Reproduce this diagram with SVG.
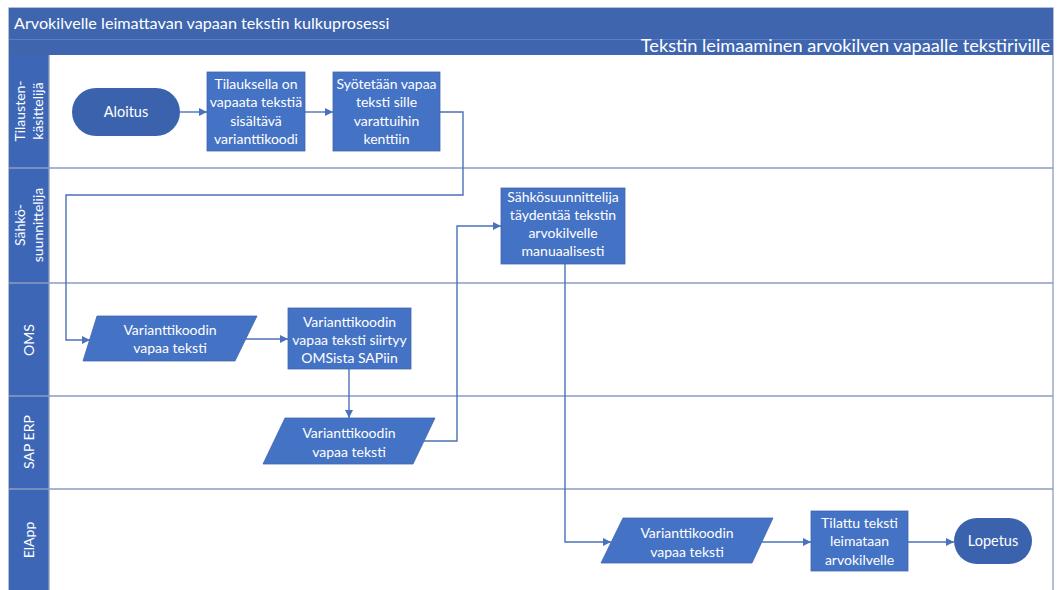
<svg xmlns="http://www.w3.org/2000/svg" width="1057" height="590" viewBox="0 0 1057 590">
  <style>
    .bar { fill: #3E65AE; }
    .lanehead { fill: #3D67B6; }
    .laneline { stroke: #8D9DC0; stroke-width: 1.3; fill: none; }
    .proc { fill: #4472C4; stroke: #3F67B0; stroke-width: 0.8; }
    .term { fill: #3B63AD; }
    .conn { stroke: #4A72B8; stroke-width: 1.4; fill: none; }
    text { font-family: Lato, "Open Sans", "Liberation Sans", sans-serif; fill: #FFFFFF; }
    .t { font-size: 14px; text-anchor: middle; }
    .lane { font-size: 14px; text-anchor: middle; }
    .title { font-size: 16.2px; }
    .sub { font-size: 18.2px; text-anchor: end; }
  </style>
  <defs>
    <marker id="arrow" markerUnits="userSpaceOnUse" markerWidth="8" markerHeight="8" refX="8" refY="4" orient="auto">
      <path d="M0,0 L8,4 L0,8 z" fill="#4A72B8"/>
    </marker>
  </defs>

  <rect width="1057" height="590" fill="#FFFFFF"/>

  <!-- pool frame and header bars -->
  <g id="pool">
    <rect x="9" y="8" width="1044" height="590" fill="#FFFFFF" stroke="#8D9DC0" stroke-width="1.3"/>
    <rect class="bar" x="9" y="8" width="1044" height="31"/>
    <rect class="bar" x="9" y="39" width="1044" height="16"/>
    <line x1="9" y1="39.5" x2="1053" y2="39.5" stroke="#5A7EC0" stroke-width="1"/>
    <text class="title" x="14" y="29">Arvokilvelle leimattavan vapaan tekstin kulkuprosessi</text>
    <text class="sub" x="1050" y="52">Tekstin leimaaminen arvokilven vapaalle tekstiriville</text>
  </g>

  <!-- swimlanes -->
  <g id="lanes">
    <rect class="lanehead" x="9" y="55" width="40" height="535"/>
    <line class="laneline" x1="9" y1="168" x2="1053" y2="168"/>
    <line class="laneline" x1="9" y1="283" x2="1053" y2="283"/>
    <line class="laneline" x1="9" y1="396" x2="1053" y2="396"/>
    <line class="laneline" x1="9" y1="489" x2="1053" y2="489"/>
    <line class="laneline" x1="49" y1="55" x2="49" y2="590"/>
    <g id="lane-tilaus" transform="translate(29,111) rotate(-90)">
      <text class="lane" x="0" y="-4">Tilausten-</text>
      <text class="lane" x="0" y="14">käsittelijä</text>
    </g>
    <g id="lane-sahko" transform="translate(29,225) rotate(-90)">
      <text class="lane" x="0" y="-4">Sähkö-</text>
      <text class="lane" x="0" y="14">suunnittelija</text>
    </g>
    <g id="lane-oms" transform="translate(29,340) rotate(-90)">
      <text class="lane" x="0" y="5">OMS</text>
    </g>
    <g id="lane-sap" transform="translate(29,442) rotate(-90)">
      <text class="lane" x="0" y="5">SAP ERP</text>
    </g>
    <g id="lane-elapp" transform="translate(29,540) rotate(-90)">
      <text class="lane" x="0" y="5">ElApp</text>
    </g>
  </g>

  <!-- connectors -->
  <g id="connectors">
    <path class="conn" d="M180,112 H207" marker-end="url(#arrow)"/>
    <path class="conn" d="M305,112 H333" marker-end="url(#arrow)"/>
    <path class="conn" d="M440,112 H463 V195 H66 V340 H90" marker-end="url(#arrow)"/>
    <path class="conn" d="M246,339 H288" marker-end="url(#arrow)"/>
    <path class="conn" d="M349,369 V418" marker-end="url(#arrow)"/>
    <path class="conn" d="M424,441 H457 V226 H501" marker-end="url(#arrow)"/>
    <path class="conn" d="M565,264 V542 H611" marker-end="url(#arrow)"/>
    <path class="conn" d="M762,542 H811" marker-end="url(#arrow)"/>
    <path class="conn" d="M908,542 H954" marker-end="url(#arrow)"/>
  </g>

  <!-- nodes -->
  <g id="aloitus">
    <rect class="term" x="72" y="88" width="108" height="48" rx="24" ry="24"/>
    <text class="t" x="126" y="117" style="font-size:14.5px">Aloitus</text>
  </g>
  <g id="tilauksella">
    <rect class="proc" x="207" y="72" width="98" height="79"/>
    <text class="t" x="256" y="89">Tilauksella on</text>
    <text class="t" x="256" y="107">vapaata tekstiä</text>
    <text class="t" x="256" y="126">sisältävä</text>
    <text class="t" x="256" y="144">varianttikoodi</text>
  </g>
  <g id="syotetaan">
    <rect class="proc" x="333" y="72" width="107" height="79"/>
    <text class="t" x="386.5" y="89">Syötetään vapaa</text>
    <text class="t" x="386.5" y="107">teksti sille</text>
    <text class="t" x="386.5" y="126">varattuihin</text>
    <text class="t" x="386.5" y="144">kenttiin</text>
  </g>
  <g id="sahko-taydentaa">
    <rect class="proc" x="501" y="188" width="124" height="76"/>
    <text class="t" x="563" y="202">Sähkösuunnittelija</text>
    <text class="t" x="563" y="220">täydentää tekstin</text>
    <text class="t" x="563" y="238">arvokilvelle</text>
    <text class="t" x="563" y="256">manuaalisesti</text>
  </g>
  <g id="oms-data">
    <polygon class="proc" points="97,316 257,316 235,361 83,361"/>
    <text class="t" x="170" y="335">Varianttikoodin</text>
    <text class="t" x="170" y="353">vapaa teksti</text>
  </g>
  <g id="oms-siirtyy">
    <rect class="proc" x="288" y="308" width="123" height="61"/>
    <text class="t" x="349.5" y="327">Varianttikoodin</text>
    <text class="t" x="349.5" y="345">vapaa teksti siirtyy</text>
    <text class="t" x="349.5" y="363">OMSista SAPiin</text>
  </g>
  <g id="sap-data">
    <polygon class="proc" points="285,418 435,418 413,464 263,464"/>
    <text class="t" x="349" y="438">Varianttikoodin</text>
    <text class="t" x="349" y="457">vapaa teksti</text>
  </g>
  <g id="elapp-data">
    <polygon class="proc" points="623,518 773,518 752,563 601,563"/>
    <text class="t" x="687" y="538">Varianttikoodin</text>
    <text class="t" x="687" y="557">vapaa teksti</text>
  </g>
  <g id="leimataan">
    <rect class="proc" x="811" y="511" width="97" height="60"/>
    <text class="t" x="859.5" y="528">Tilattu teksti</text>
    <text class="t" x="859.5" y="546">leimataan</text>
    <text class="t" x="859.5" y="565">arvokilvelle</text>
  </g>
  <g id="lopetus">
    <rect class="term" x="954" y="518" width="78" height="46" rx="23" ry="23"/>
    <text class="t" x="993" y="546" style="font-size:14.5px">Lopetus</text>
  </g>
</svg>
